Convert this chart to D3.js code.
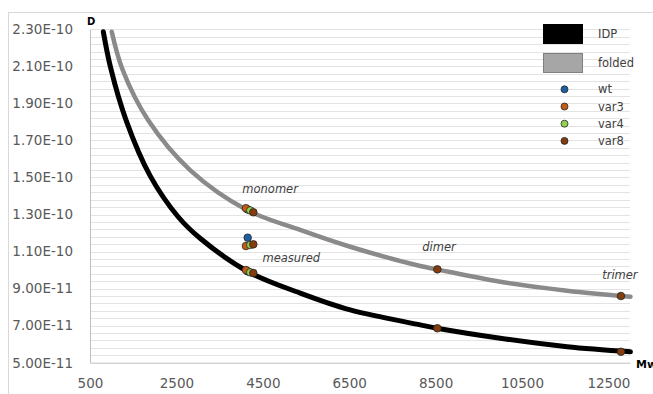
<!DOCTYPE html>
<html>
<head>
<meta charset="utf-8">
<script src="https://cdn.jsdelivr.net/npm/d3@7"></script>
<style>
  body { margin: 0; background: #fff; }
  svg { display: block; }
</style>
</head>
<body>
<div id="plot"></div>
<script>
// curves: D against Mw
var idpMw = [808, 980, 1334, 1890, 2539, 3048, 4160, 5365, 6523, 8145, 8532, 9998, 11543, 13010];
var idpD = [2.287e-10, 2.09e-10, 1.81e-10, 1.51e-10, 1.288e-10, 1.172e-10, 9.91e-11, 8.76e-11, 7.85e-11, 7.04e-11, 6.86e-11, 6.32e-11, 5.86e-11, 5.59e-11];
var foldedMw = [1003, 1257, 1844, 2817, 4130, 5365, 6523, 8145, 8532, 9998, 11543, 13010];
var foldedD = [2.287e-10, 2.08e-10, 1.81e-10, 1.54e-10, 1.325e-10, 1.217e-10, 1.126e-10, 1.022e-10, 1.004e-10, 9.37e-11, 8.89e-11, 8.56e-11];

// marker series
var seriesNames = ["wt", "var3", "var4", "var8"];
var seriesColors = ["#1f5f9f", "#c55a11", "#92d050", "#843c0c"];
var wtMw = [4150, 4150, 4150];
var wtD = [9.93e-11, 1.327e-10, 1.175e-10];
var var3Mw = [4110, 4110, 4110];
var var3D = [1.0e-10, 1.334e-10, 1.13e-10];
var var4Mw = [4210, 4210, 4210];
var var4D = [9.88e-11, 1.322e-10, 1.136e-10];
var var8Mw = [4280, 4280, 4280, 8540, 8540, 12790, 12790];
var var8D = [9.84e-11, 1.312e-10, 1.139e-10, 6.86e-11, 1.004e-10, 5.59e-11, 8.6e-11];

// axis ticks
var xTicks = [500, 2500, 4500, 6500, 8500, 10500, 12500];
var yTicks = [5e-11, 7e-11, 9e-11, 1.1e-10, 1.3e-10, 1.5e-10, 1.7e-10, 1.9e-10, 2.1e-10, 2.3e-10];
var yTickLabels = ["5.00E-11", "7.00E-11", "9.00E-11", "1.10E-10", "1.30E-10", "1.50E-10", "1.70E-10", "1.90E-10", "2.10E-10", "2.30E-10"];

// annotation labels
var annotations = [
  {txt: "monomer", mw: 4670, d: 1.416e-10},
  {txt: "measured", mw: 5160, d: 1.044e-10},
  {txt: "dimer", mw: 8580, d: 1.105e-10},
  {txt: "trimer", mw: 12766, d: 9.52e-11}
];

var w = 653, h = 394;
var plotLeft = 90, plotRight = 630, plotTop = 29.3, plotBottom = 362.7;
var font = "DejaVu Sans, sans-serif";

var xScale = d3.scaleLinear().domain([500, 13000]).range([plotLeft, plotRight]);
var yScale = d3.scaleLinear().domain([5e-11, 2.3e-10]).range([plotBottom, plotTop]);

var svg = d3.select("#plot")
  .append("svg")
  .attr("width", w)
  .attr("height", h);

// chart border
svg.append("rect")
  .attr("x", 8.5)
  .attr("y", 12.5)
  .attr("width", 700)
  .attr("height", 500)
  .attr("fill", "none")
  .attr("stroke", "#d9d9d9");

// draw grid lines (every 4e-12)
var gridVals = d3.range(0, 45).map(function(i) { return 5e-11 + (i + 1) * 4e-12; });
svg.append("g")
  .selectAll("line")
  .data(gridVals)
  .enter()
  .append("line")
  .attr("x1", plotLeft)
  .attr("x2", plotRight)
  .attr("y1", function(d) { return Math.round(yScale(d)) + 0.5; })
  .attr("y2", function(d) { return Math.round(yScale(d)) + 0.5; })
  .attr("stroke", "#e3e3e3");

// draw x axis
var xAxis = d3.axisBottom(xScale).tickValues(xTicks).tickSize(0).tickPadding(16).tickFormat(d3.format("d"));
var gx = svg.append("g")
  .attr("transform", "translate(0," + plotBottom + ")")
  .call(xAxis);
gx.select(".domain").attr("stroke", "#bfbfbf");
gx.selectAll("text")
  .style("font", "13.5px " + font)
  .attr("fill", "#595959");

// draw y axis
var yAxis = d3.axisLeft(yScale).tickValues(yTicks).tickSize(0).tickPadding(17)
  .tickFormat(function(d, i) { return yTickLabels[i]; });
var gy = svg.append("g")
  .attr("transform", "translate(" + plotLeft + ",0)")
  .call(yAxis);
gy.select(".domain").attr("stroke", "#bfbfbf");
gy.selectAll("text")
  .style("font", "13.5px " + font)
  .attr("fill", "#595959");

// axis titles
svg.append("text")
  .attr("x", 87)
  .attr("y", 25)
  .style("font", "bold 10px " + font)
  .attr("fill", "#000")
  .text("D");
svg.append("text")
  .attr("x", 636)
  .attr("y", 368)
  .style("font", "bold 11px " + font)
  .attr("fill", "#000")
  .text("Mw");

// draw curves
var line = d3.line()
  .x(function(d) { return xScale(d[0]); })
  .y(function(d) { return yScale(d[1]); })
  .curve(d3.curveCatmullRom.alpha(0.5));

svg.append("path")
  .datum(d3.zip(foldedMw, foldedD))
  .attr("d", line)
  .attr("fill", "none")
  .attr("stroke", "#8a8a8a")
  .attr("stroke-width", 4.5)
  .attr("stroke-linecap", "round");

svg.append("path")
  .datum(d3.zip(idpMw, idpD))
  .attr("d", line)
  .attr("fill", "none")
  .attr("stroke", "#000")
  .attr("stroke-width", 5)
  .attr("stroke-linecap", "round");

// draw markers, series in order so var8 ends on top
var markerData = [d3.zip(wtMw, wtD), d3.zip(var3Mw, var3D), d3.zip(var4Mw, var4D), d3.zip(var8Mw, var8D)];
markerData.forEach(function(pts, i) {
  svg.append("g")
    .selectAll("circle")
    .data(pts)
    .enter()
    .append("circle")
    .attr("cx", function(d) { return xScale(d[0]); })
    .attr("cy", function(d) { return yScale(d[1]); })
    .attr("r", 3.8)
    .attr("fill", seriesColors[i])
    .attr("stroke", "#262626")
    .attr("stroke-width", 0.8);
});

// annotation labels
svg.selectAll(".ann")
  .data(annotations)
  .enter()
  .append("text")
  .attr("class", "ann")
  .attr("x", function(d) { return xScale(d.mw); })
  .attr("y", function(d) { return yScale(d.d); })
  .attr("text-anchor", "middle")
  .style("font", "italic 11.5px " + font)
  .attr("fill", "#404040")
  .text(function(d) { return d.txt; });

// legend line entries
var lineLegend = [{txt: "IDP", fill: "#000", stroke: "#000"}, {txt: "folded", fill: "#a6a6a6", stroke: "#7f7f7f"}];
var legend1 = svg.selectAll(".legend1")
  .data(lineLegend)
  .enter().append("g")
  .attr("class", "legend1")
  .attr("transform", function(d, i) { return "translate(0," + i * 29 + ")"; });

legend1.append("rect")
  .attr("x", 543.5)
  .attr("y", 24.5)
  .attr("width", 39)
  .attr("height", 19)
  .attr("fill", function(d) { return d.fill; })
  .attr("stroke", function(d) { return d.stroke; });

legend1.append("text")
  .attr("x", 598)
  .attr("y", 38)
  .style("font", "11.5px " + font)
  .attr("fill", "#404040")
  .text(function(d) { return d.txt; });

// legend marker entries
var legend2 = svg.selectAll(".legend2")
  .data(seriesNames)
  .enter().append("g")
  .attr("class", "legend2")
  .attr("transform", function(d, i) { return "translate(0," + (89.3 + i * 17.2) + ")"; });

legend2.append("circle")
  .attr("cx", 564.5)
  .attr("cy", 0)
  .attr("r", 3.5)
  .attr("fill", function(d, i) { return seriesColors[i]; })
  .attr("stroke", "#262626")
  .attr("stroke-width", 0.8);

legend2.append("text")
  .attr("x", 598)
  .attr("y", 4)
  .style("font", "11.5px " + font)
  .attr("fill", "#404040")
  .text(function(d) { return d; });
</script>
</body>
</html>
